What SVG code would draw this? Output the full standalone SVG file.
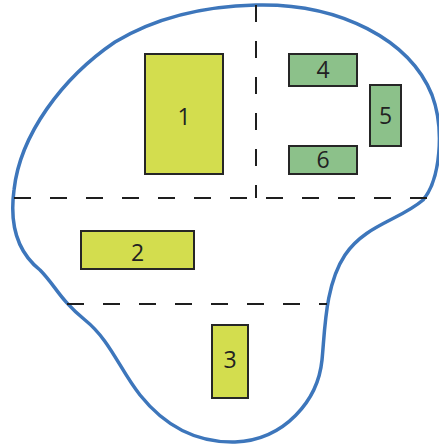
<svg xmlns="http://www.w3.org/2000/svg" width="439" height="448" viewBox="0 0 439 448">
  <style>
    .outline { fill: none; stroke: #3d76bb; stroke-width: 3.5; }
    .divider { fill: none; stroke: #1e1e1e; stroke-width: 2; stroke-dasharray: 17 19; }
    .yellow { fill: #d3dd4e; stroke: #262626; stroke-width: 2; }
    .green { fill: #8cc18a; stroke: #262626; stroke-width: 2; }
    .label { font-family: "Open Sans", "Liberation Sans", sans-serif; font-size: 23px; fill: #222; text-anchor: middle; dominant-baseline: central; }
  </style>
  <rect width="439" height="448" fill="#ffffff"/>

  <!-- site boundary -->
  <path class="outline" d="M 256,5 C 340,3 410,40 432,95 C 445,130 440,180 423,200 C 400,220 365,225 345,255 C 325,285 325,330 322,360 C 318,400 285,440 235,442 C 190,443 160,420 140,395 C 120,370 110,340 85,320 C 60,300 55,285 40,270 C 15,250 10,220 14,190 C 20,135 62,78 115,42 C 160,15 210,6 256,5 Z"/>

  <!-- zone dividers -->
  <g id="connectors">
    <line class="divider" x1="256" y1="5" x2="256" y2="198"/>
    <line class="divider" x1="14" y1="198" x2="427" y2="198"/>
    <line class="divider" x1="67" y1="304" x2="327" y2="304"/>
  </g>

  <g id="node1">
    <rect class="yellow" x="145" y="54" width="78" height="120"/>
    <text class="label" x="184" y="116">1</text>
  </g>
  <g id="node2">
    <rect class="yellow" x="81" y="231" width="113" height="38"/>
    <text class="label" x="137.5" y="252">2</text>
  </g>
  <g id="node3">
    <rect class="yellow" x="212" y="325" width="36" height="73"/>
    <text class="label" x="230" y="359">3</text>
  </g>
  <g id="node4">
    <rect class="green" x="289" y="54" width="68" height="32"/>
    <text class="label" x="323" y="69">4</text>
  </g>
  <g id="node5">
    <rect class="green" x="370" y="85" width="31" height="61"/>
    <text class="label" x="385.5" y="115">5</text>
  </g>
  <g id="node6">
    <rect class="green" x="289" y="146" width="68" height="28"/>
    <text class="label" x="323" y="159">6</text>
  </g>
</svg>
